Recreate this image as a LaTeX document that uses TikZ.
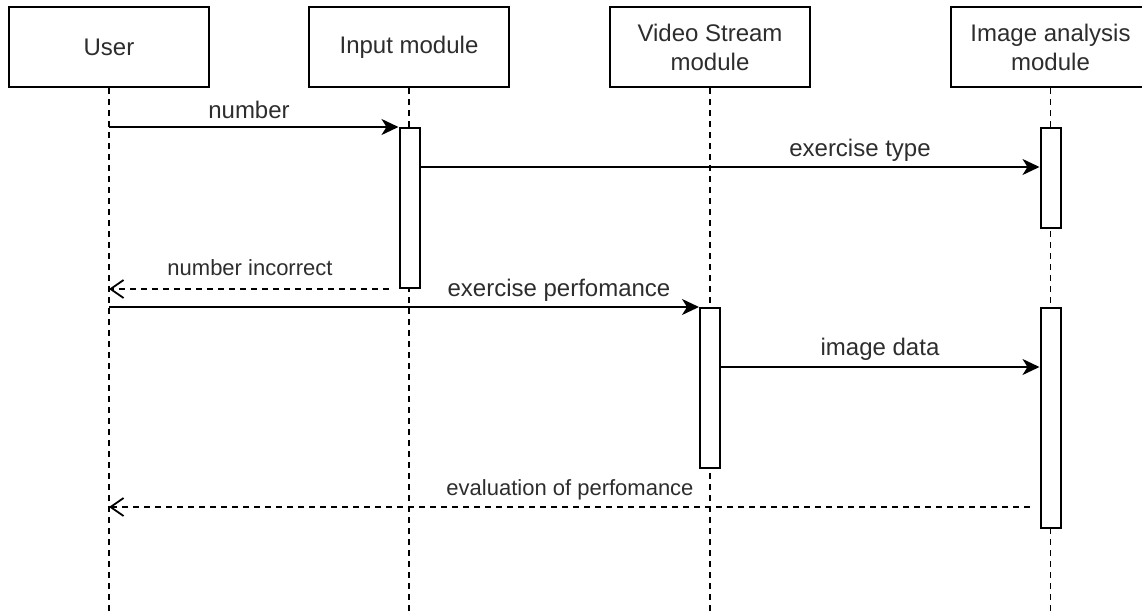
\documentclass[tikz,border=0pt]{standalone}
\usepackage{fontspec}
\setmainfont{Liberation Sans}
\usetikzlibrary{arrows.meta}
\definecolor{txt}{RGB}{45,45,45}
\tikzset{
  head/.style={draw=black, line width=2pt, fill=white, minimum width=200pt, minimum height=80pt,
    inner sep=0pt, align=center, text=txt, font=\fontsize{24}{29}\selectfont},
  life/.style={draw=black, line width=1.8pt, dash pattern=on 6pt off 5pt},
  act/.style={draw=black, line width=2pt, fill=white, minimum width=20pt, inner sep=0pt, anchor=north},
  msg/.style={draw=black, line width=2pt, -{Stealth[length=17pt,width=16pt,inset=5pt]}},
  ret/.style={draw=black, line width=1.8pt, dash pattern=on 6pt off 5pt,
    -{Straight Barb[length=13pt,width=18pt,line width=1.8pt]}},
  lbl/.style={text=txt, inner sep=0pt, font=\fontsize{24}{29}\selectfont},
  slbl/.style={text=txt, inner sep=0pt, font=\fontsize{22}{26}\selectfont},
}
\begin{document}
\begin{tikzpicture}[x=1pt, y=-1pt]
\useasboundingbox (0,0) rectangle (1142,610);
% heads
\node[head] (U) at (109,47) {User};
\node[head] (I) at (409,47) {Input module};
\node[head] (V) at (710,47) {Video Stream\\module};
\node[head] (A) at (1050.5,47) {Image analysis\\module};
% lifeline ends
\coordinate (Ue) at (109,615);
\coordinate (Ie) at (409,615);
\coordinate (Ve) at (710,615);
\coordinate (Ae) at (1050.5,615);
\draw[life] (U.south) -- (Ue);
\draw[life] (I.south) -- (Ie);
\draw[life] (V.south) -- (Ve);
\draw[life] (A.south) -- (Ae);
% activations
\node[act, minimum height=160pt] (iA) at (409.5,127) {};
\node[act, minimum height=100pt] (aA1) at (1050.5,127) {};
\node[act, minimum height=160pt] (vA) at (710,307) {};
\node[act, minimum height=220pt] (aA2) at (1050.5,307) {};
% message anchor points
\coordinate (m2s) at ([yshift=-40pt]iA.north east);
\coordinate (m2e) at ([yshift=-40pt]aA1.north west);
\coordinate (m3s) at ([xshift=-10pt]iA.south west);
\coordinate (m5s) at ([yshift=-60pt]vA.north east);
\coordinate (m5e) at ([yshift=-60pt]aA2.north west);
\coordinate (m6s) at ([yshift=-200pt,xshift=-10pt]aA2.north west);
% messages
\draw[msg] (U.south |- iA.north) -- (iA.north west);
\node[lbl] (l1) at (249,110) {number};
\draw[msg] (m2s) -- (m2e);
\node[lbl] (l2) at (860,150) {exercise type};
\draw[ret] (m3s) -- (U.south |- m3s);
\node[slbl] (l3) at (250,268) {number incorrect};
\draw[msg] (U.south |- vA.north) -- (vA.north west);
\node[lbl] (l4) at (559,290) {exercise perfomance};
\draw[msg] (m5s) -- (m5e);
\node[lbl] (l5) at (880,349) {image data};
\draw[ret] (m6s) -- (U.south |- m6s);
\node[slbl] (l6) at (570,490) {evaluation of perfomance};
\end{tikzpicture}
\end{document}
